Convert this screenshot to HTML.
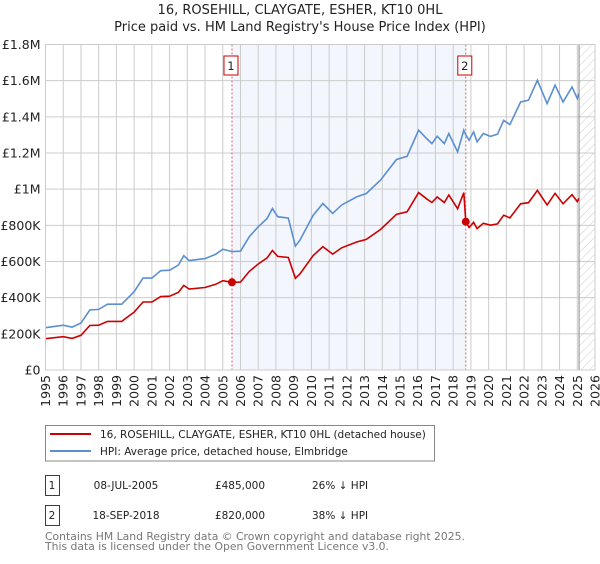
<!DOCTYPE html>
<html><head><meta charset="utf-8"><style>
body{margin:0;background:#fff;font-family:"DejaVu Sans","Liberation Sans",sans-serif;}
svg text{font-family:"DejaVu Sans","Liberation Sans",sans-serif;}
</style></head><body>
<svg id="chart" width="600" height="560" xmlns="http://www.w3.org/2000/svg">
<defs><pattern id="hatch" width="6" height="6" patternUnits="userSpaceOnUse" patternTransform="rotate(45)"><line x1="0" y1="0" x2="0" y2="6" stroke="#ccc" stroke-width="1"/></pattern></defs>
<text x="300" y="14" text-anchor="middle" font-size="13" fill="#222">16, ROSEHILL, CLAYGATE, ESHER, KT10 0HL</text>
<text x="300" y="31" text-anchor="middle" font-size="13" fill="#222">Price paid vs. HM Land Registry's House Price Index (HPI)</text>
<g id="plot"></g>
<rect x="45.5" y="425.5" width="389" height="35.5" fill="#fff" stroke="#888"/>
<line x1="50" y1="434" x2="91" y2="434" stroke="#cc0000" stroke-width="2"/>
<text x="100" y="438" font-size="10.5" fill="#222">16, ROSEHILL, CLAYGATE, ESHER, KT10 0HL (detached house)</text>
<line x1="50" y1="451" x2="91" y2="451" stroke="#5b8fd0" stroke-width="2"/>
<text x="100" y="455" font-size="10.5" fill="#222">HPI: Average price, detached house, Elmbridge</text>
<g>
<rect x="45.5" y="475.5" width="14" height="20" fill="#fff" stroke="#cc0000"/>
<text x="52" y="489" text-anchor="middle" font-size="10.5" fill="#222">1</text>
<text x="126" y="489" text-anchor="middle" font-size="10.5" fill="#222">08-JUL-2005</text>
<text x="240" y="489" text-anchor="middle" font-size="10.5" fill="#222">£485,000</text>
<text x="312" y="489" font-size="10.5" fill="#222">26% ↓ HPI</text>
</g>
<g>
<rect x="45.5" y="505.5" width="14" height="20" fill="#fff" stroke="#cc0000"/>
<text x="52" y="519" text-anchor="middle" font-size="10.5" fill="#222">2</text>
<text x="126" y="519" text-anchor="middle" font-size="10.5" fill="#222">18-SEP-2018</text>
<text x="240" y="519" text-anchor="middle" font-size="10.5" fill="#222">£820,000</text>
<text x="312" y="519" font-size="10.5" fill="#222">38% ↓ HPI</text>
</g>
<text x="45" y="540" font-size="10.8" fill="#777">Contains HM Land Registry data © Crown copyright and database right 2025.</text>
<text x="45" y="550" font-size="10.8" fill="#777">This data is licensed under the Open Government Licence v3.0.</text>
</svg>
<script>
const dates=[1995,1996,1996.5,1997,1997.5,1998,1998.5,1999.3,2000,2000.5,2001,2001.5,2002,2002.5,2002.8,2003.1,2004,2004.6,2005,2005.52,2006,2006.5,2007,2007.5,2007.8,2008.1,2008.7,2009.1,2009.35,2010.1,2010.65,2011.2,2011.7,2012.55,2013.1,2013.9,2014.8,2015.4,2016.05,2016.5,2016.8,2017.1,2017.5,2017.75,2018.25,2018.6,2018.71,2018.9,2019.15,2019.35,2019.7,2020.1,2020.5,2020.85,2021.2,2021.8,2022.25,2022.75,2023.3,2023.75,2024.2,2024.7,2025.0,2025.1];
const hpiValues=[234,248,237,260,332,335,364,364,433,508,508,549,552,580,632,605,616,640,668,655,657,737,792,838,893,848,840,685,718,856,921,866,912,957,976,1050,1164,1182,1326,1280,1252,1293,1252,1308,1206,1326,1300,1271,1317,1262,1308,1292,1304,1381,1357,1482,1492,1602,1473,1575,1482,1565,1501,1530];
const propValues=[173,184,175,192,246,248,269,269,320,376,376,406,408,429,468,448,456,474,494,485,486,545,586,620,661,628,622,507,531,633,682,641,675,708,722,777,861,875,981,947,926,957,926,968,892,981,820,788,817,782,811,801,808,856,841,919,925,993,913,977,919,970,931,949];
const yTicks=[0,200,400,600,800,1000,1200,1400,1600,1800];
const yTickLabels=["£0","£200K","£400K","£600K","£800K","£1M","£1.2M","£1.4M","£1.6M","£1.8M"];
const years=[1995,1996,1997,1998,1999,2000,2001,2002,2003,2004,2005,2006,2007,2008,2009,2010,2011,2012,2013,2014,2015,2016,2017,2018,2019,2020,2021,2022,2023,2024,2025,2026];
const saleDates=[2005.52,2018.71];
const salePrices=[485,820];
const saleLabels=["1","2"];

const X0=45.5,X1=595,Y0=370,Y1=44.5;
const x=t=>X0+(t-1995)/(2026-1995)*(X1-X0);
const y=v=>Y0-v/1800*(Y0-Y1);
const NS="http://www.w3.org/2000/svg";
const g=document.getElementById('plot');
function mk(tag,attrs){const e=document.createElementNS(NS,tag);for(const k in attrs)e.setAttribute(k,attrs[k]);g.appendChild(e);return e;}

let e=mk('rect',{x:x(saleDates[0]),y:Y1,width:x(saleDates[1])-x(saleDates[0]),height:Y0-Y1,fill:'#eef2fc',opacity:0.7});


e=mk('rect',{x:x(2025.1),y:Y1,width:X1-x(2025.1),height:Y0-Y1,fill:'url(#hatch)'});


yTicks.forEach((v,i)=>{
  let l=mk('line',{x1:X0,x2:X1,y1:y(v),y2:y(v),stroke:'#ccc','stroke-width':1});
  
  
  let t=mk('text',{x:X0-5,y:y(v)+4.5,'text-anchor':'end','font-size':12.5,fill:'#222'});
  t.textContent=yTickLabels[i];
  
  
});
years.forEach(yr=>{
  let l=mk('line',{x1:x(yr),x2:x(yr),y1:Y1,y2:Y0,stroke:'#ccc','stroke-width':1});
  
  
  let t=mk('text',{x:0,y:0,'text-anchor':'end','font-size':12.5,fill:'#222',transform:`translate(${x(yr)+4.5},${Y0+5}) rotate(-90)`});
  t.textContent=yr;
  
  
});
e=mk('line',{x1:x(2025.1),x2:x(2025.1),y1:Y1,y2:Y0,stroke:'#888','stroke-width':1});


saleDates.forEach((d,i)=>{
  let l=mk('line',{x1:x(d),x2:x(d),y1:Y1,y2:Y0,stroke:'#e06060','stroke-width':1,'stroke-dasharray':'2,2'});
  
  
  let r=mk('rect',{x:x(d)-8,y:56,width:14,height:19,fill:'#fff',stroke:'#cc0000'});
  
  
  let t=mk('text',{x:x(d)-1,y:70,'text-anchor':'middle','font-size':11.5,fill:'#222'});
  t.textContent=saleLabels[i];
  
  
});
const pts=a=>dates.map((d,i)=>x(d).toFixed(1)+','+y(a[i]).toFixed(1)).join(' ');
e=mk('polyline',{points:pts(hpiValues),fill:'none',stroke:'#5b8fd0','stroke-width':1.6});


e=mk('polyline',{points:pts(propValues),fill:'none',stroke:'#cc0000','stroke-width':1.6});


saleDates.forEach((d,i)=>{
  let c=mk('circle',{cx:x(d),cy:y(salePrices[i]),r:4,fill:'#cc0000'});
  
  
});
e=mk('rect',{x:X0,y:Y1,width:X1-X0,height:Y0-Y1,fill:'none',stroke:'#ccc'});


</script>
</body></html>
